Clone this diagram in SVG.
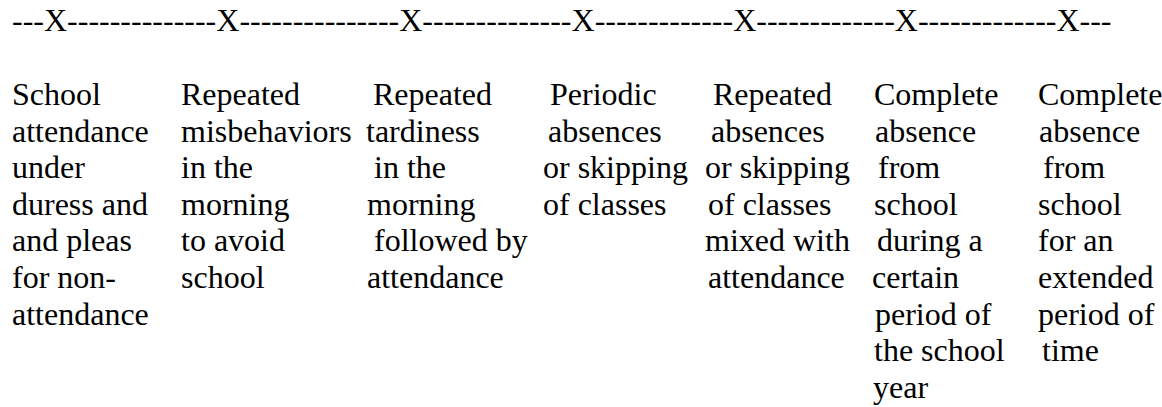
<svg xmlns="http://www.w3.org/2000/svg" width="1162" height="407" viewBox="0 0 1162 407">
<style>
text { font-family: 'Liberation Serif', 'DejaVu Serif', serif; font-size: 32px; fill: #000000; }
</style>
<rect width="1162" height="407" fill="#ffffff"/>
<g id="timeline">
<text x="12" y="31">---X--------------X---------------X--------------X-------------X-------------X-------------X---</text>
</g>
<g id="col1">
<text y="105"><tspan x="12">School</tspan><tspan x="12" dy="36.6">attendance</tspan><tspan x="12" dy="36.6">under</tspan><tspan x="12" dy="36.6">duress and</tspan><tspan x="12" dy="36.6">and pleas</tspan><tspan x="12" dy="36.6">for non-</tspan><tspan x="12" dy="36.6">attendance</tspan></text>
</g>
<g id="col2">
<text y="105"><tspan x="181">Repeated</tspan><tspan x="181" dy="36.6">misbehaviors</tspan><tspan x="181" dy="36.6">in the</tspan><tspan x="181" dy="36.6">morning</tspan><tspan x="181" dy="36.6">to avoid</tspan><tspan x="181" dy="36.6">school</tspan></text>
</g>
<g id="col3">
<text y="105"><tspan x="373">Repeated</tspan><tspan x="366" dy="36.6">tardiness</tspan><tspan x="374" dy="36.6">in the</tspan><tspan x="367" dy="36.6">morning</tspan><tspan x="374" dy="36.6">followed by</tspan><tspan x="367" dy="36.6">attendance</tspan></text>
</g>
<g id="col4">
<text y="105"><tspan x="550">Periodic</tspan><tspan x="548" dy="36.6">absences</tspan><tspan x="543" dy="36.6">or skipping</tspan><tspan x="543" dy="36.6">of classes</tspan></text>
</g>
<g id="col5">
<text y="105"><tspan x="713">Repeated</tspan><tspan x="711" dy="36.6">absences</tspan><tspan x="705" dy="36.6">or skipping</tspan><tspan x="708" dy="36.6">of classes</tspan><tspan x="705" dy="36.6">mixed with</tspan><tspan x="708" dy="36.6">attendance</tspan></text>
</g>
<g id="col6">
<text y="105"><tspan x="874">Complete</tspan><tspan x="875" dy="36.6">absence</tspan><tspan x="878" dy="36.6">from</tspan><tspan x="874" dy="36.6">school</tspan><tspan x="877" dy="36.6">during a</tspan><tspan x="872" dy="36.6">certain</tspan><tspan x="875" dy="36.6">period of</tspan><tspan x="874" dy="36.6">the school</tspan><tspan x="873" dy="36.6">year</tspan></text>
</g>
<g id="col7">
<text y="105"><tspan x="1038">Complete</tspan><tspan x="1039" dy="36.6">absence</tspan><tspan x="1043" dy="36.6">from</tspan><tspan x="1038" dy="36.6">school</tspan><tspan x="1038" dy="36.6">for an</tspan><tspan x="1038" dy="36.6">extended</tspan><tspan x="1038" dy="36.6">period of</tspan><tspan x="1042" dy="36.6">time</tspan></text>
</g>
</svg>
